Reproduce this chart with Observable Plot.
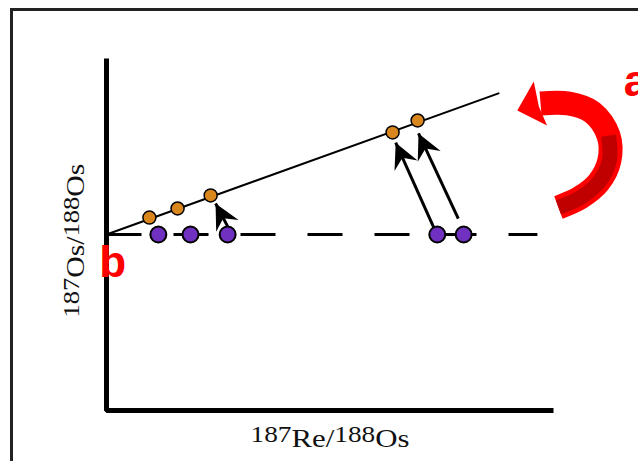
<!DOCTYPE html>
<html><head><meta charset="utf-8">
<script src="https://cdn.jsdelivr.net/npm/d3@7"></script>
<script src="https://cdn.jsdelivr.net/npm/@observablehq/plot@0.6"></script>
<style>
html,body{margin:0;padding:0;background:#fff;}
#wrap{position:relative;width:638px;height:461px;overflow:hidden;background:#fff;}
#frame{position:absolute;left:10px;top:8px;width:700px;height:600px;border-left:3px solid #222;border-top:3px solid #222;pointer-events:none;}
</style></head><body>
<div id="wrap"><div id="chart"></div><div id="frame"></div></div>
<script>
// ---- data (arbitrary isochron-diagram units) ----
const axisX = [0, 10];
const axisY = [0, 10];
const initialRatio = 5.0;
const dashedEnd = 9.64;
const purpleX = [1.16, 1.88, 2.71, 7.40, 7.99];
const orangeX = [0.96, 1.59, 2.33, 6.40, 6.96];
const orangeY = [5.48, 5.74, 6.11, 7.90, 8.24];
const isochronX = [0, 8.77];
const isochronY = [5.0, 9.01];
const arrowX1 = [2.71, 7.32, 7.87];
const arrowY1 = [5.23, 5.20, 5.45];
const arrowX2 = [2.44, 6.47, 6.98];
const arrowY2 = [5.88, 7.61, 7.87];
const redCurveX = [9.71, 10.34, 10.87, 11.23, 11.25, 11.01, 10.60, 10.11];
const redCurveY = [8.72, 8.72, 8.47, 7.81, 7.10, 6.48, 6.05, 5.77];
const redDarkFrom = 3; // lower half of the curved arrow is darker
const redTip = [9.19, 8.52];
const labelA = {text: "a", x: 11.57, y: 8.93};
const labelB = {text: "b", x: -0.16, y: 3.78};
const xLabel = "187Re/188Os";
const yLabel = "187Os/188Os";

// ---- layout ----
const W = 638, H = 461, mL = 106, mR = 85, mT = 58, mB = 51;
const kx = (W - mL - mR) / (axisX[1] - axisX[0]);
const ky = (H - mT - mB) / (axisY[1] - axisY[0]);
const angle = (x1, y1, x2, y2) => Math.atan2((x2 - x1) * kx, (y2 - y1) * ky) * 180 / Math.PI;

const notchHead = {draw(ctx, size) {const s = Math.sqrt(size / Math.PI);
  ctx.moveTo(0, 0); ctx.lineTo(-0.55 * s, 1.1 * s); ctx.lineTo(0, 0.72 * s); ctx.lineTo(0.55 * s, 1.1 * s); ctx.closePath();}};
const wideHead = {draw(ctx, size) {const s = Math.sqrt(size / Math.PI);
  ctx.moveTo(0, 0); ctx.lineTo(-s, 1.05 * s); ctx.lineTo(-0.1 * s, 0.95 * s); ctx.lineTo(s, 1.05 * s); ctx.closePath();}};

const axisCorner = [{x: axisX[0], y: axisY[1]}, {x: axisX[0], y: axisY[0]}, {x: axisX[1], y: axisY[0]}];
const dashed = [{x: 0, y: initialRatio}, {x: dashedEnd, y: initialRatio}];
const purple = purpleX.map(x => ({x, y: initialRatio}));
const orange = orangeX.map((x, i) => ({x, y: orangeY[i]}));
const isochron = isochronX.map((x, i) => ({x, y: isochronY[i]}));
const arrows = arrowX1.map((x1, i) => ({x1, y1: arrowY1[i], x2: arrowX2[i], y2: arrowY2[i]}));
const redCurve = redCurveX.map((x, i) => ({x, y: redCurveY[i]}));
const redDark = redCurve.slice(redDarkFrom);
const redHead = [{x: redTip[0], y: redTip[1], a: angle(redCurveX[0], redCurveY[0], redTip[0], redTip[1])}];

const plot = Plot.plot({
  width: W, height: H,
  marginLeft: mL, marginRight: mR, marginTop: mT, marginBottom: mB,
  x: {domain: axisX, axis: null},
  y: {domain: axisY, axis: null},
  style: {background: "transparent", overflow: "visible"},
  marks: [
    Plot.line(axisCorner, {x: "x", y: "y", stroke: "#000", strokeWidth: 5, strokeLinecap: "butt", strokeLinejoin: "miter"}),
    Plot.line(dashed, {x: "x", y: "y", stroke: "#000", strokeWidth: 3, strokeDasharray: "35,32", strokeLinecap: "butt"}),
    Plot.line(isochron, {x: "x", y: "y", stroke: "#000", strokeWidth: 2}),
    Plot.link(arrows, {x1: "x1", y1: "y1", x2: "x2", y2: "y2", stroke: "#000", strokeWidth: 3}),
    Plot.dot(arrows, {x: "x2", y: "y2", symbol: notchHead, r: 23, fill: "#000", rotate: d => angle(d.x1, d.y1, d.x2, d.y2)}),
    Plot.dot(purple, {x: "x", y: "y", r: 8, fill: "#7030c0", stroke: "#000", strokeWidth: 2}),
    Plot.dot(orange, {x: "x", y: "y", r: 6.5, fill: "#d9861c", stroke: "#000", strokeWidth: 1.5}),
    Plot.line(redCurve, {x: "x", y: "y", stroke: "#ff0000", strokeWidth: 24, strokeLinecap: "butt", curve: "catmull-rom"}),
    Plot.line(redDark, {x: "x", y: "y", stroke: "#c00000", strokeWidth: 15, strokeLinecap: "butt", curve: "catmull-rom"}),
    Plot.dot(redHead, {x: "x", y: "y", symbol: wideHead, r: 23, fill: "#ff0000", rotate: "a"}),
    Plot.text([labelA, labelB], {x: "x", y: "y", text: "text", fill: "#ff0000", fontSize: 44, fontWeight: "bold",
      fontFamily: "Liberation Sans, Arial, sans-serif", textAnchor: "start", lineAnchor: "bottom"}),
    Plot.text([xLabel], {frameAnchor: "bottom", dy: 36, text: d => d, fill: "#111", fontSize: 26,
      fontFamily: "Liberation Serif, Times New Roman, serif", textAnchor: "middle", lineAnchor: "bottom"}),
    Plot.text([yLabel], {frameAnchor: "left", dx: -23, dy: 6, rotate: -90, text: d => d, fill: "#111", fontSize: 26,
      fontFamily: "Liberation Serif, Times New Roman, serif", textAnchor: "middle", lineAnchor: "bottom"})
  ]
});

function richify(svg, plain, parts, len) {
  const ns = "http://www.w3.org/2000/svg";
  svg.querySelectorAll("text").forEach(t => {
    if (t.textContent !== plain) return;
    t.textContent = "";
    let prevSup = false;
    parts.forEach(([s, sup]) => {
      const ts = document.createElementNS(ns, "tspan");
      ts.textContent = s;
      if (sup) { ts.setAttribute("font-size", "23"); if (!prevSup) ts.setAttribute("dy", "-5"); }
      else if (prevSup) ts.setAttribute("dy", "5");
      prevSup = sup;
      t.appendChild(ts);
    });
    t.setAttribute("textLength", len);
    t.setAttribute("lengthAdjust", "spacingAndGlyphs");
  });
}
richify(plot, xLabel, [["187", true], ["Re", false], ["/", false], ["188", true], ["Os", false]], 159);
richify(plot, yLabel, [["187", true], ["Os", false], ["/", false], ["188", true], ["Os", false]], 154);

document.getElementById("chart").appendChild(plot);
</script>
</body></html>
